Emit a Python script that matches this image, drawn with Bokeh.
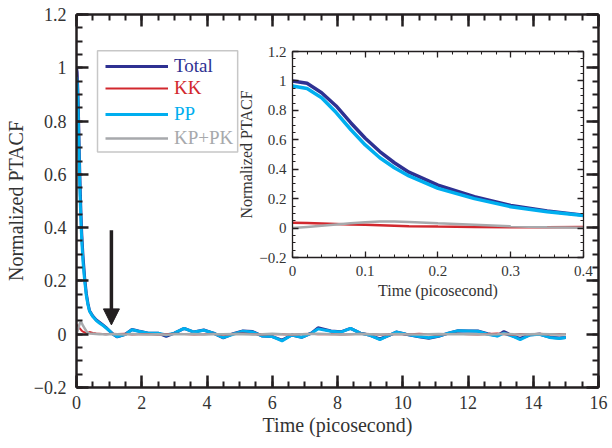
from bokeh.plotting import figure
from bokeh.models import (LinearAxis, SingleIntervalTicker, CustomJSTickFormatter, Legend,
                          LegendItem, BoxAnnotation, Arrow, NormalHead, ColumnDataSource)
from bokeh.embed import file_html
from bokeh.resources import INLINE

FONT = "Liberation Serif"

# ---------------- data ----------------
time_ps = [0, 0.02, 0.04, 0.06, 0.08, 0.10, 0.12, 0.14, 0.16, 0.20, 0.25, 0.30, 0.35, 0.40,
           0.5, 0.6, 0.7, 0.8, 0.9, 1.0, 1.1,
           1.25, 1.5, 1.7, 1.9, 2.2, 2.5, 2.75, 3.0, 3.3, 3.6, 3.9, 4.2, 4.5, 4.8, 5.1, 5.4,
           5.7, 6.0, 6.3, 6.6, 6.9, 7.2, 7.4, 7.8, 8.1, 8.4, 8.7, 9.0, 9.3, 9.6, 9.8, 10.1,
           10.5, 10.8, 11.1, 11.4, 11.7, 12.0, 12.3, 12.6, 12.9, 13.1, 13.4, 13.6, 13.9, 14.2,
           14.5, 14.8, 15.0]

total = [1.000, 0.984, 0.920, 0.830, 0.716, 0.610, 0.520, 0.444, 0.380, 0.292, 0.213, 0.154, 0.116, 0.088,
         0.068, 0.054, 0.045, 0.036, 0.026, 0.014, 0.002,
         -0.010, 0.000, 0.018, 0.012, 0.004, 0.004, -0.008, 0.004, 0.022, 0.008, 0.016, 0.004, -0.014,
         0.002, 0.012, 0.010, -0.007, -0.009, -0.022, -0.003, -0.012, 0.004, 0.024, 0.012, 0.009,
         0.022, 0.004, -0.004, -0.018, -0.003, 0.008, 0.000, -0.010, -0.015, -0.008, 0.004, 0.013,
         0.012, 0.012, 0.002, -0.006, 0.010, -0.008, -0.016, -0.002, 0.000, -0.011, -0.014, -0.012]

pp = [0.966, 0.948, 0.886, 0.785, 0.670, 0.565, 0.478, 0.410, 0.354, 0.270, 0.200, 0.145, 0.111, 0.086,
      0.066, 0.052, 0.042, 0.034, 0.024, 0.014, 0.002,
      -0.009, 0.000, 0.017, 0.011, 0.004, 0.004, -0.003, 0.004, 0.022, 0.008, 0.015, 0.004, -0.013,
      0.000, 0.011, 0.008, -0.007, -0.009, -0.025, -0.003, -0.012, 0.004, 0.020, 0.011, 0.008,
      0.022, 0.004, -0.004, -0.020, -0.003, 0.008, 0.000, -0.009, -0.013, -0.007, 0.004, 0.013,
      0.012, 0.011, 0.000, -0.007, 0.004, -0.009, -0.020, -0.003, 0.000, -0.012, -0.016, -0.012]

kk = [0.036, 0.034, 0.031, 0.028, 0.025, 0.022, 0.019, 0.016, 0.013, 0.010, 0.007, 0.005, 0.006, 0.008,
      0.005, 0.003, 0.002, 0.001, 0.000, 0.001, 0.002,
      0.001, 0.002, -0.001, 0.000, 0.001, -0.002, 0.000, 0.002, 0.001, -0.001, 0.000, 0.002, -0.002,
      0.001, 0.003, 0.000, -0.001, 0.001, 0.000, -0.002, 0.001, 0.002, 0.000, 0.001, -0.001,
      0.000, 0.002, 0.001, -0.002, 0.000, 0.001, -0.001, 0.002, 0.000, -0.001, 0.001, 0.002,
      0.000, -0.001, 0.001, 0.003, 0.000, -0.002, 0.001, 0.000, 0.002, -0.001, 0.001, 0.000]

kp_pk = [0.000, 0.008, 0.016, 0.024, 0.032, 0.040, 0.045, 0.044, 0.042, 0.032, 0.022, 0.012, 0.005, 0.003,
         0.002, 0.001, 0.000, 0.000, -0.001, 0.000, 0.000,
         0.000, -0.001, 0.001, 0.000, -0.001, 0.000, -0.002, 0.000, 0.000, 0.001, -0.001, 0.000, 0.000,
         0.001, 0.000, -0.001, 0.000, 0.002, 0.000, -0.001, 0.000, 0.001, 0.002, 0.000, -0.001,
         0.000, 0.001, 0.000, -0.001, 0.000, 0.001, 0.000, -0.001, 0.000, 0.001, 0.000, 0.000,
         0.001, 0.000, -0.001, 0.000, 0.002, 0.000, -0.001, 0.000, 0.001, 0.000, -0.001, 0.000]

series_names = ["Total", "KK", "PP", "KP+PK"]
series_colors = ["#2E3192", "#D2282E", "#00AEEF", "#A7A9AC"]

main_x_range = (0, 16)
main_y_range = (-0.2, 1.2000001)
inset_x_range = (0, 0.4000001)
inset_y_range = (-0.2, 1.2000001)
main_x_ticks_interval = 2
main_y_ticks_interval = 0.2
inset_x_ticks_interval = 0.1
inset_y_ticks_interval = 0.2

arrow_time = 1.07
arrow_top = 0.39
arrow_tip = 0.035

src = ColumnDataSource(dict(t=time_ps, total=total, kk=kk, pp=pp, kppk=kp_pk))

fmt_code = """
const v = Math.abs(tick) < 1e-9 ? 0 : +tick.toFixed(3);
return String(v).replace('-', '\\u2212');
"""


def style_axis(ax, tick_size, label_size, major_in, minor_in, lw, show_labels=True):
    ax.major_tick_in = major_in
    ax.major_tick_out = 0
    ax.minor_tick_in = minor_in
    ax.minor_tick_out = 0
    ax.axis_line_width = lw
    ax.axis_line_color = "#231F20"
    ax.major_tick_line_width = lw
    ax.minor_tick_line_width = lw * 0.8
    ax.major_tick_line_color = "#231F20"
    ax.minor_tick_line_color = "#231F20"
    ax.major_label_text_font = FONT
    ax.major_label_text_color = "#333333"
    ax.axis_label_text_font = FONT
    ax.axis_label_text_font_style = "normal"
    ax.axis_label_text_color = "#333333"
    ax.axis_label_text_font_size = label_size
    if show_labels:
        ax.major_label_text_font_size = tick_size
        ax.formatter = CustomJSTickFormatter(code=fmt_code)
    else:
        ax.major_label_text_font_size = "0px"
        ax.major_label_standoff = 0


# ---------------- main figure ----------------
p = figure(width=608, height=445, x_range=main_x_range, y_range=main_y_range,
           output_backend="svg", toolbar_location=None,
           min_border_left=76, min_border_top=14, min_border_right=10, min_border_bottom=58,
           x_axis_label="Time (picosecond)", y_axis_label="Normalized PTACF")
p.grid.visible = False
p.outline_line_color = None
p.background_fill_color = "white"
p.border_fill_color = "white"

p.xaxis.ticker = SingleIntervalTicker(interval=main_x_ticks_interval, num_minor_ticks=4)
p.yaxis.ticker = SingleIntervalTicker(interval=main_y_ticks_interval, num_minor_ticks=4)
for ax in p.xaxis + p.yaxis:
    style_axis(ax, "18px", "20px", 12, 6, 2.5)
p.xaxis.major_label_standoff = 8
p.yaxis.major_label_standoff = 10
p.xaxis.axis_label_standoff = 2
p.yaxis.axis_label_standoff = 4

top_ax = LinearAxis(ticker=SingleIntervalTicker(interval=main_x_ticks_interval, num_minor_ticks=4))
right_ax = LinearAxis(ticker=SingleIntervalTicker(interval=main_y_ticks_interval, num_minor_ticks=4))
style_axis(top_ax, "0px", "0px", 12, 6, 2.5, show_labels=False)
style_axis(right_ax, "0px", "0px", 12, 6, 2.5, show_labels=False)
p.add_layout(top_ax, "above")
p.add_layout(right_ax, "right")

r_total = p.line("t", "total", source=src, color=series_colors[0], line_width=3)
r_pp = p.line("t", "pp", source=src, color=series_colors[2], line_width=3)
r_kk = p.line("t", "kk", source=src, color=series_colors[1], line_width=2)
r_kppk = p.line("t", "kppk", source=src, color=series_colors[3], line_width=2.5)

# legend: one Legend per entry so each label keeps its series colour
renderers = [r_total, r_kk, r_pp, r_kppk]
legend_offsets = [310, 288, 262, 238]
for name, col, rend, off in zip(series_names, series_colors, renderers, legend_offsets):
    lg = Legend(items=[LegendItem(label=name, renderers=[rend])], location=(29, off),
                padding=0, margin=0, spacing=0, glyph_width=63, glyph_height=22,
                label_height=22, label_standoff=6, label_text_font=FONT,
                label_text_font_size="19px", label_text_color=col,
                border_line_alpha=0, background_fill_alpha=0)
    p.add_layout(lg)

legend_box = BoxAnnotation(left=0.644, right=4.94, bottom=0.684, top=1.064,
                           fill_alpha=0, line_color="#444444", line_width=1.5)
p.add_layout(legend_box)

p.add_layout(Arrow(end=NormalHead(size=16, fill_color="#231F20", line_color="#231F20"),
                   x_start=arrow_time, y_start=arrow_top, x_end=arrow_time, y_end=arrow_tip,
                   line_width=3.5, line_color="#231F20"))

# ---------------- inset ----------------
q = figure(width=396, height=275, x_range=inset_x_range, y_range=inset_y_range,
           output_backend="svg", toolbar_location=None,
           min_border_left=90, min_border_top=14, min_border_right=15, min_border_bottom=55,
           x_axis_label="Time (picosecond)", y_axis_label="Normalized PTACF")
q.grid.visible = False
q.outline_line_color = None
q.background_fill_color = "white"
q.border_fill_color = None
q.xaxis.ticker = SingleIntervalTicker(interval=inset_x_ticks_interval, num_minor_ticks=5)
q.yaxis.ticker = SingleIntervalTicker(interval=inset_y_ticks_interval, num_minor_ticks=4)
for ax in q.xaxis + q.yaxis:
    style_axis(ax, "15px", "16px", 6, 3, 1.3)
q.xaxis.major_label_standoff = 8
q.yaxis.major_label_standoff = 6
q.xaxis.axis_label_standoff = 3
q.yaxis.axis_label_standoff = 1
q_top = LinearAxis(ticker=SingleIntervalTicker(interval=inset_x_ticks_interval, num_minor_ticks=5))
q_right = LinearAxis(ticker=SingleIntervalTicker(interval=inset_y_ticks_interval, num_minor_ticks=4))
style_axis(q_top, "0px", "0px", 6, 3, 1.3, show_labels=False)
style_axis(q_right, "0px", "0px", 6, 3, 1.3, show_labels=False)
q.add_layout(q_top, "above")
q.add_layout(q_right, "right")

q.line("t", "total", source=src, color=series_colors[0], line_width=3.5)
q.line("t", "pp", source=src, color=series_colors[2], line_width=3.5)
q.line("t", "kk", source=src, color=series_colors[1], line_width=2.5)
q.line("t", "kppk", source=src, color=series_colors[3], line_width=2.5)

# the inset floats over the empty upper-right part of the main plot
q.styles = {"position": "absolute", "left": "202px", "top": "37px"}

open("out.html", "w").write(file_html([p, q], INLINE))
